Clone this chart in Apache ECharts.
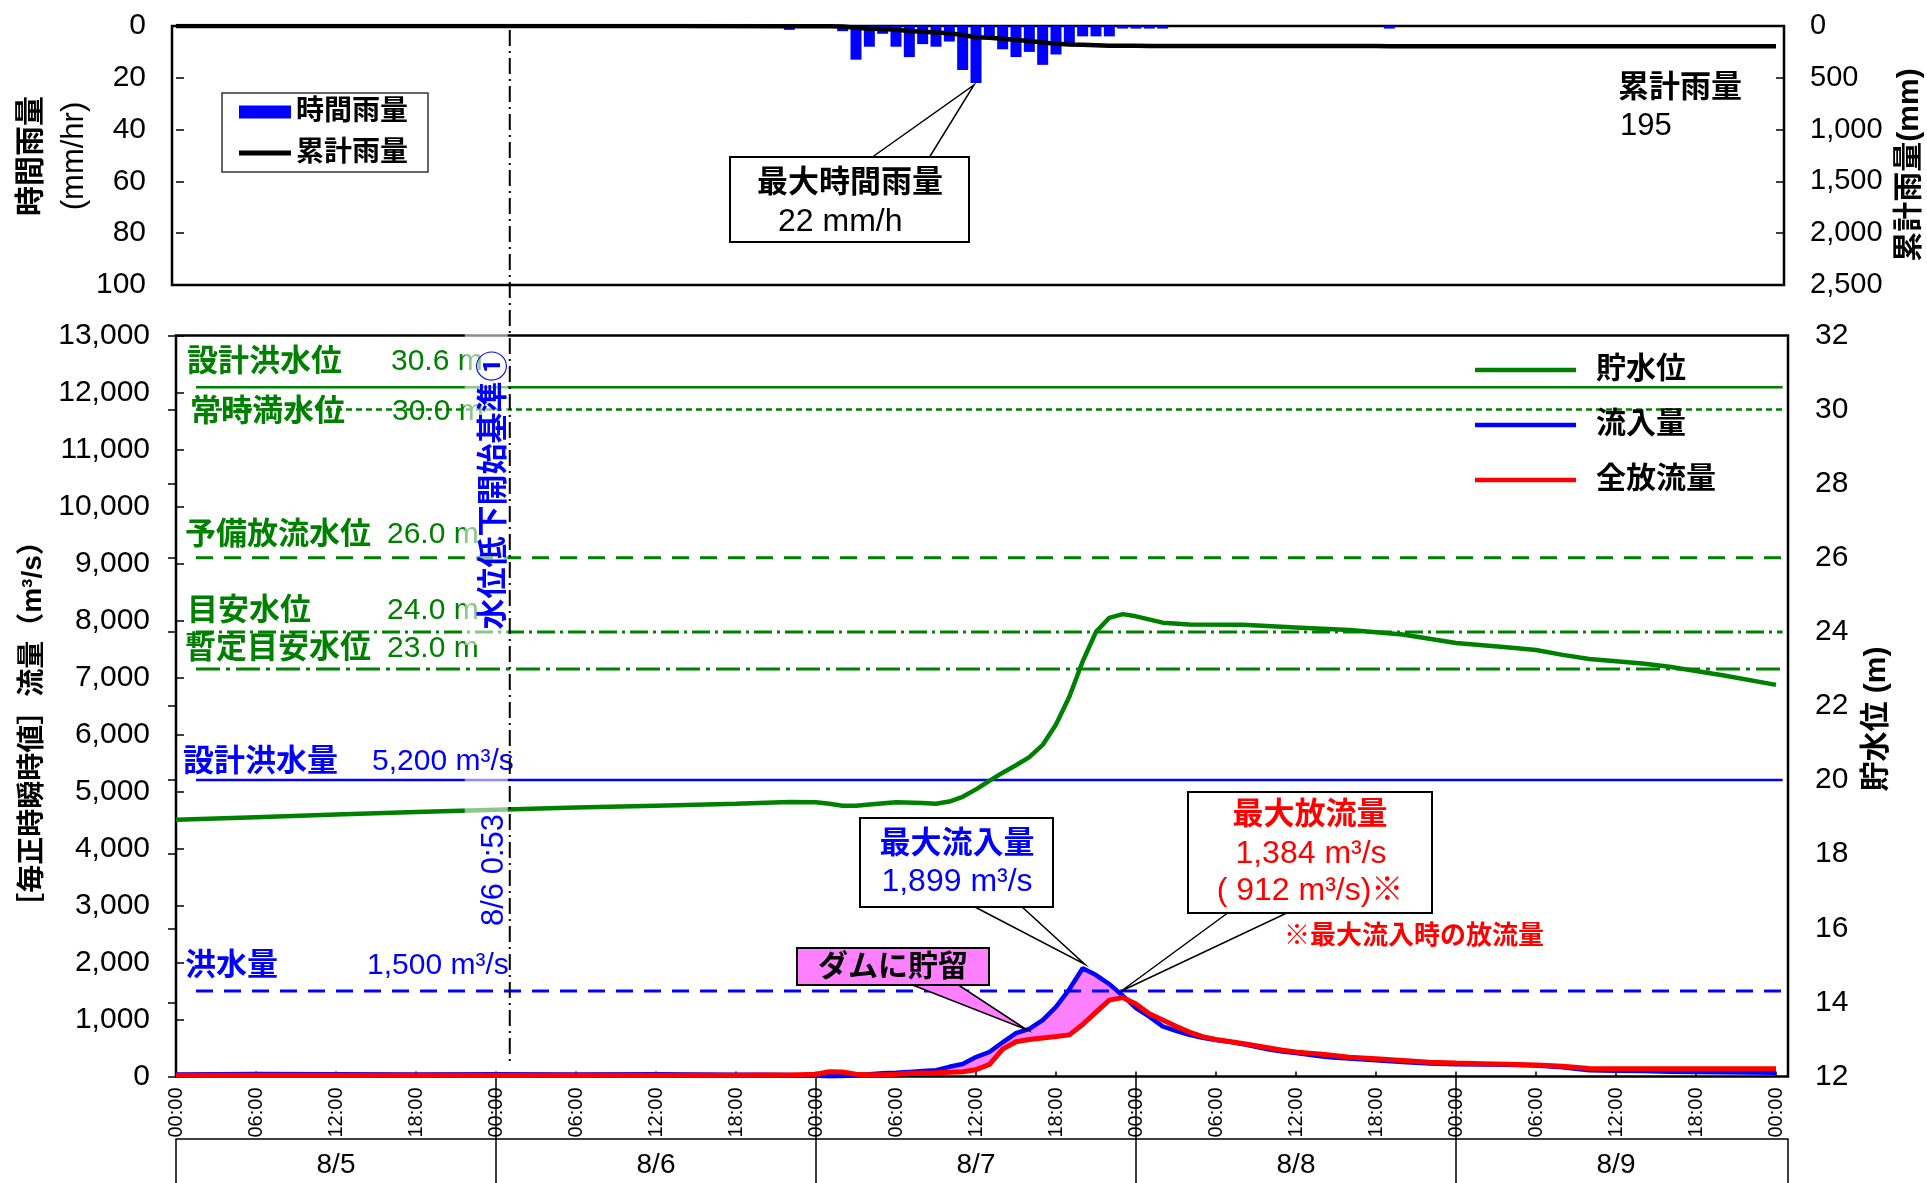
<!DOCTYPE html>
<html><head><meta charset="utf-8">
<script src="https://cdn.jsdelivr.net/npm/echarts@6/dist/echarts.min.js"></script>
<style>html,body{margin:0;padding:0;background:#fff}#c{width:1927px;height:1183px}</style>
</head><body><div id="c"></div>
<script>
// ---------------- data (hours counted from 8/5 00:00) ----------------
const rainHours = [5, 38, 46, 50, 51, 52, 53, 54, 55, 56, 57, 58, 59, 60, 61, 62, 63, 64, 65, 66, 67, 68, 69, 70, 71, 72, 73, 74, 91];
const rainMm    = [0.5, 0.5, 1.5, 2, 13, 8, 3, 8, 12, 7, 8, 6, 17, 22, 5, 9, 12, 10, 15, 11, 7, 4, 4, 4, 1, 1, 1, 1, 1];

const cumHours = [0, 5, 38, 46, 49, 50, 51, 52, 53, 54, 55, 56, 57, 58, 59, 60, 61, 62, 63, 64, 65, 66, 67, 68, 69, 70, 71, 72, 73, 74, 90, 91, 120];
const cumMm    = [0, 0.5, 1, 2.5, 2.5, 4.5, 17.5, 25.5, 28.5, 36.5, 48.5, 55.5, 63.5, 69.5, 86.5, 108.5, 113.5, 122.5, 134.5, 144.5, 159.5, 170.5, 177.5, 181.5, 185.5, 189.5, 190.5, 191.5, 192.5, 193.5, 193.5, 195, 195];

const levelHours = [0, 6, 12, 18, 24, 30, 36, 42, 46, 48, 49, 50, 51, 52, 54, 56, 57, 58, 59, 60, 61, 62, 63, 64, 65, 66, 67, 68, 69, 70, 71, 72, 74, 76, 80, 84, 88, 92, 96, 100, 102, 104, 106, 108, 110, 112, 116, 120];
const levelM     = [18.93, 19.00, 19.07, 19.14, 19.20, 19.26, 19.31, 19.36, 19.41, 19.40, 19.36, 19.31, 19.31, 19.34, 19.40, 19.38, 19.36, 19.42, 19.55, 19.75, 19.98, 20.20, 20.40, 20.62, 20.95, 21.50, 22.25, 23.20, 24.00, 24.38, 24.48, 24.42, 24.25, 24.20, 24.19, 24.12, 24.05, 23.93, 23.70, 23.58, 23.51, 23.38, 23.27, 23.21, 23.15, 23.06, 22.83, 22.57];

const flowHours = [0, 6, 12, 18, 24, 30, 36, 42, 44, 46, 48, 49, 50, 51, 52, 53, 54, 55, 56, 57, 58, 59, 60, 61, 62, 63, 64, 65, 66, 67, 68, 69, 70, 71, 72, 73, 74, 75, 76, 77, 78, 79, 80, 81, 82, 83, 84, 85, 86, 87, 88, 90, 92, 94, 96, 98, 100, 102, 104, 106, 108, 110, 112, 114, 116, 118, 120];
const inflow  = [35, 45, 40, 35, 40, 35, 40, 30, 30, 25, 15, 5, 10, 20, 40, 55, 65, 80, 95, 110, 170, 220, 340, 430, 600, 760, 835, 990, 1220, 1530, 1899, 1780, 1620, 1420, 1200, 1050, 880, 800, 730, 680, 640, 610, 570, 520, 475, 440, 410, 380, 350, 330, 315, 285, 255, 230, 215, 210, 205, 195, 160, 110, 100, 95, 85, 80, 75, 70, 65];
const outflow = [20, 20, 20, 20, 20, 20, 20, 20, 25, 25, 40, 85, 80, 40, 30, 30, 40, 55, 60, 65, 75, 85, 120, 210, 480, 610, 650, 675, 700, 730, 912, 1130, 1340, 1384, 1270, 1100, 990, 880, 780, 700, 650, 615, 580, 540, 500, 460, 430, 410, 390, 365, 340, 310, 280, 250, 235, 225, 215, 200, 180, 140, 135, 135, 135, 135, 135, 135, 135];

const levelRefNames  = ['設計洪水位', '常時満水位', '予備放流水位', '目安水位', '暫定目安水位'];
const levelRefValues = [30.6, 30.0, 26.0, 24.0, 23.0];
const flowRefNames   = ['設計洪水量', '洪水量'];
const flowRefValues  = [5200, 1500];

const timeTickHours = [0, 6, 12, 18, 24, 30, 36, 42, 48, 54, 60, 66, 72, 78, 84, 90, 96, 102, 108, 114, 120];
const dayBoundaryHours = [0, 24, 48, 72, 96];
const dateLabels = ['8/5', '8/6', '8/7', '8/8', '8/9'];
const eventHour = 24 + 53 / 60;   // 8/6 0:53
const eventText = '水位低下開始基準①';
const peakRain = 22, peakRainHour = 60;
const peakInflow = 1899, peakInflowHour = 68;
const peakOutflow = 1384, outflowAtPeakInflow = 912;
const cumTotal = 195;

// ---------------- layout / style ----------------
const F = "'Liberation Sans','Noto Sans CJK JP',sans-serif";
const GREEN = '#008000', BLUE = '#0000ff', RED = '#ff0000', PINK = '#ff80ff';
const X0MIN = -0.3, X0MAX = 120.6, X1MIN = 0, X1MAX = 120.9;
const REF_START = 1.5, REF_END = 120.5;
const fmt = v => Number(v).toLocaleString('en-US');
const pad2 = n => (n < 10 ? '0' : '') + n;

const levelRefStyles = [
  {width: 2.5, type: 'solid'},
  {width: 2.5, type: [6, 4]},
  {width: 3, type: [17, 11]},
  {width: 3, type: [18, 5, 3, 5]},
  {width: 3, type: [24, 6, 4, 6]}
];
const flowRefStyles = [
  {width: 2.5, type: 'solid'},
  {width: 3, type: [17, 11]}
];

const zip = (xs, ys) => xs.map((x, i) => [x, ys[i]]);
const fillIdx = flowHours.map((h, i) => i).filter(i => flowHours[i] >= 50 && flowHours[i] <= 72);

const series = [
  {name: '時間雨量', type: 'bar', xAxisIndex: 0, yAxisIndex: 0, data: zip(rainHours, rainMm),
   barWidth: 11, itemStyle: {color: BLUE}, silent: true},
  {name: '累計雨量', type: 'line', xAxisIndex: 0, yAxisIndex: 1, data: zip(cumHours, cumMm),
   symbol: 'none', lineStyle: {color: '#000', width: 4.5}, itemStyle: {color: '#000'}, silent: true},
  {name: '_fill', type: 'custom', xAxisIndex: 1, yAxisIndex: 2, data: [[60, 0]], silent: true, z: 1, clip: false,
   renderItem: function (params, api) {
     const up = fillIdx.map(i => api.coord([flowHours[i], Math.max(inflow[i], outflow[i])]));
     const lo = fillIdx.slice().reverse().map(i => api.coord([flowHours[i], outflow[i]]));
     return {type: 'polygon', shape: {points: up.concat(lo)}, style: {fill: PINK, stroke: null}};
   }}
];
levelRefValues.forEach((v, i) => series.push({
  name: '_lr' + i, type: 'line', xAxisIndex: 1, yAxisIndex: 3, data: [[REF_START, v], [REF_END, v]],
  symbol: 'none', silent: true, z: 2, lineStyle: {color: GREEN, width: levelRefStyles[i].width, type: levelRefStyles[i].type}
}));
flowRefValues.forEach((v, i) => series.push({
  name: '_fr' + i, type: 'line', xAxisIndex: 1, yAxisIndex: 2, data: [[REF_START, v], [REF_END, v]],
  symbol: 'none', silent: true, z: 2, lineStyle: {color: BLUE, width: flowRefStyles[i].width, type: flowRefStyles[i].type}
}));
series.push(
  {name: '貯水位', type: 'line', xAxisIndex: 1, yAxisIndex: 3, data: zip(levelHours, levelM), symbol: 'none',
   lineStyle: {color: GREEN, width: 4.5}, itemStyle: {color: GREEN}, z: 3, silent: true},
  {name: '流入量', type: 'line', xAxisIndex: 1, yAxisIndex: 2, data: zip(flowHours, inflow), symbol: 'none',
   lineStyle: {color: BLUE, width: 4.5}, itemStyle: {color: BLUE}, z: 4, silent: true},
  {name: '全放流量', type: 'line', xAxisIndex: 1, yAxisIndex: 2, data: zip(flowHours, outflow), symbol: 'none',
   lineStyle: {color: RED, width: 5}, itemStyle: {color: RED}, z: 5, silent: true}
);

const tickStyle = {show: true, inside: true, length: 8, lineStyle: {color: '#000', width: 1.5}};
const lblStyle = (size, margin) => ({color: '#000', fontSize: size, fontFamily: F, margin: margin});
const lineIcon = (w, t) => 'path://M0,0H' + w + 'V' + t + 'H0Z';

const option = {
  animation: false,
  backgroundColor: '#fff',
  grid: [
    {left: 172, top: 26, width: 1612, height: 259, show: true, borderColor: '#000', borderWidth: 2.5, outerBoundsMode: 'none'},
    {left: 176, top: 335.5, width: 1612, height: 741, show: true, borderColor: '#000', borderWidth: 2.5, outerBoundsMode: 'none'}
  ],
  legend: [
    {orient: 'vertical', left: 222, top: 93, padding: [4, 20, 4, 17], itemWidth: 52, itemHeight: 13, itemGap: 11,
     borderColor: '#333', borderWidth: 1.5, selectedMode: false, symbolKeepAspect: true,
     textStyle: {fontSize: 28, fontWeight: 'bold', fontFamily: F, color: '#000', lineHeight: 30},
     data: [{name: '時間雨量', icon: 'rect'}, {name: '累計雨量', icon: lineIcon(52, 5)}]},
    {orient: 'vertical', left: 1475, top: 354, padding: 0, itemWidth: 101, itemHeight: 14, itemGap: 23, selectedMode: false,
     symbolKeepAspect: true,
     textStyle: {fontSize: 30, fontWeight: 'bold', fontFamily: F, color: '#000', lineHeight: 32, padding: [0, 0, 0, 15]},
     data: [{name: '貯水位', icon: lineIcon(101, 4.5)}, {name: '流入量', icon: lineIcon(101, 4.5)}, {name: '全放流量', icon: lineIcon(101, 4.5)}]}
  ],
  xAxis: [
    {type: 'value', gridIndex: 0, min: X0MIN, max: X0MAX, position: 'bottom',
     axisLine: {show: false}, axisTick: {show: false}, axisLabel: {show: false}, splitLine: {show: false}},
    {type: 'value', gridIndex: 1, min: X1MIN, max: X1MAX, position: 'bottom',
     axisLine: {show: false}, splitLine: {show: false},
     axisTick: {show: true, inside: true, length: 5, customValues: timeTickHours, lineStyle: {color: '#000', width: 1.5}},
     axisLabel: {show: true, customValues: timeTickHours, rotate: 90, margin: 11, padding: [14, 0, 0, 0],
                 color: '#000', fontSize: 20, fontFamily: F,
                 formatter: v => pad2(Math.round(v) % 24) + ':00'}},
    {type: 'value', gridIndex: 1, min: X1MIN, max: X1MAX, position: 'bottom', offset: 62.4,
     axisLine: {show: true, lineStyle: {color: '#000', width: 1.5}}, splitLine: {show: false},
     axisTick: {show: true, inside: false, length: 46, customValues: dayBoundaryHours.concat([X1MAX]), lineStyle: {color: '#000', width: 1.5}},
     axisLabel: {show: true, customValues: dayBoundaryHours.map(h => h + 12), margin: 12, color: '#000', fontSize: 28, fontFamily: F,
                 formatter: v => dateLabels[Math.floor(v / 24)]}},
    {type: 'value', gridIndex: 1, min: X1MIN, max: X1MAX, position: 'bottom',
     axisLine: {show: false}, splitLine: {show: false}, axisLabel: {show: false},
     axisTick: {show: true, inside: false, length: 63, customValues: dayBoundaryHours.slice(1), lineStyle: {color: '#000', width: 1.5}}}
  ],
  yAxis: [
    {type: 'value', gridIndex: 0, min: 0, max: 100, interval: 20, inverse: true, position: 'left',
     axisLine: {show: false}, splitLine: {show: false}, axisTick: tickStyle, axisLabel: lblStyle(30, 26)},
    {type: 'value', gridIndex: 0, min: 0, max: 2500, interval: 500, inverse: true, position: 'right',
     axisLine: {show: false}, splitLine: {show: false}, axisTick: tickStyle,
     axisLabel: Object.assign(lblStyle(29, 26), {formatter: fmt})},
    {type: 'value', gridIndex: 1, min: 0, max: 13000, interval: 1000, position: 'left',
     axisLine: {show: false}, splitLine: {show: false}, axisTick: tickStyle,
     axisLabel: Object.assign(lblStyle(30, 26), {formatter: fmt})},
    {type: 'value', gridIndex: 1, min: 12, max: 32, interval: 2, position: 'right',
     axisLine: {show: false}, splitLine: {show: false}, axisTick: tickStyle, axisLabel: lblStyle(30, 27)}
  ],
  series: series
};

const chart = echarts.init(document.getElementById('c'), null, {renderer: 'canvas', width: 1927, height: 1183});
chart.setOption(option);

// ---------------- annotations ----------------
function T(x, y, s, o) {
  o = o || {};
  const al = o.align || 'left';
  return {type: 'text', x: x, y: y, rotation: o.rot || 0, z: o.z || 20, silent: true,
    style: {text: s, x: 0, y: 0, fill: o.color || '#000', fontSize: o.size || 28, fontWeight: o.bold ? 'bold' : 'normal',
            fontFamily: F, align: al, textAlign: al, verticalAlign: 'middle', textVerticalAlign: 'middle'}};
}
function R(x, y, w, h, fill, stroke, z, lw) {
  return {type: 'rect', z: z, silent: true, shape: {x: x, y: y, width: w, height: h},
    style: {fill: fill, stroke: stroke || null, lineWidth: lw || 2}};
}
function PG(pts, fill, z) {
  return {type: 'polygon', z: z, silent: true, shape: {points: pts}, style: {fill: fill, stroke: '#000', lineWidth: 1.5}};
}
const px = (xi, yi, x, y) => chart.convertToPixel({xAxisIndex: xi, yAxisIndex: yi}, [x, y]);
const ROT = Math.PI / 2;

const g = [];
g.push(T(32, 156, '時間雨量', {rot: ROT, align: 'center', bold: true, size: 30}));
g.push(T(74, 156, '(mm/hr)', {rot: ROT, align: 'center', size: 31}));
g.push(T(1910, 165, '累計雨量(mm)', {rot: ROT, align: 'center', bold: true, size: 30}));
g.push(T(33, 724, '［毎正時瞬時値］流量（m³/s）', {rot: ROT, align: 'center', bold: true, size: 28}));
g.push(T(1877, 719, '貯水位 (m)', {rot: ROT, align: 'center', bold: true, size: 30}));

g.push(T(1618, 88, '累計雨量', {bold: true, size: 31}));
g.push(T(1620, 126, String(cumTotal), {size: 31}));

const levelLabelPos = [[187, 362, 391], [190, 412, 392], [185, 535, 387], [187, 611, 387], [185, 649, 387]];
levelRefNames.forEach((n, i) => {
  const p = levelLabelPos[i];
  g.push(T(p[0], p[1], n, {color: GREEN, bold: true, size: 31, z: 10}));
  g.push(T(p[2], p[1], levelRefValues[i].toFixed(1) + ' m', {color: GREEN, size: 30, z: 10}));
});
const flowLabelPos = [[183, 762, 372], [185, 966, 367]];
flowRefNames.forEach((n, i) => {
  const p = flowLabelPos[i];
  g.push(T(p[0], p[1], n, {color: BLUE, bold: true, size: 31, z: 10}));
  g.push(T(p[2], p[1], fmt(flowRefValues[i]) + ' m³/s', {color: BLUE, size: 30, z: 10}));
});

const ex = chart.convertToPixel({xAxisIndex: 1}, eventHour) + 2;
g.push(R(ex - 45, 322, 43, 323, 'rgba(255,255,255,0.55)', null, 50));
g.push(R(ex - 45, 770, 43, 165, 'rgba(255,255,255,0.55)', null, 50));
g.push({type: 'line', z: 60, silent: true, shape: {x1: ex, y1: 30, x2: ex, y2: 1062},
        style: {stroke: '#000', lineWidth: 2, lineDash: [16, 5, 2, 5]}});
const ed = Math.floor(eventHour / 24), eh = Math.floor(eventHour % 24), em = Math.round((eventHour * 60) % 60);
g.push(T(ex - 15, 490, eventText, {rot: ROT, align: 'center', bold: true, size: 31, color: BLUE, z: 61}));
g.push(T(ex - 15, 870, dateLabels[ed] + ' ' + eh + ':' + pad2(em), {rot: ROT, align: 'center', size: 31, color: BLUE, z: 61}));

const tr = px(0, 0, peakRainHour, peakRain);
g.push(PG([[871, 158], [tr[0] - 2, tr[1] + 2], [929, 158]], '#fff', 90));
g.push(R(730, 157, 239, 85, '#fff', '#000', 91, 2));
g.push(T(850, 183, '最大時間雨量', {align: 'center', bold: true, size: 31, z: 92}));
g.push(T(778, 222, peakRain + ' mm/h', {size: 32, z: 92}));

const ti = px(1, 2, peakInflowHour, peakInflow);
g.push(PG([[973, 906], [ti[0] + 2, ti[1] - 4], [1021, 906]], '#fff', 90));
g.push(R(860, 818, 193, 89, '#fff', '#000', 91, 2));
g.push(T(957, 844, '最大流入量', {align: 'center', bold: true, size: 31, color: BLUE, z: 92}));
g.push(T(957, 882, fmt(peakInflow) + ' m³/s', {align: 'center', size: 32, color: BLUE, z: 92}));

const to = px(1, 2, 70.9, 1500);
g.push(PG([[1229, 912], [to[0], to[1]], [1289, 912]], '#fff', 90));
g.push(R(1188, 792, 244, 121, '#fff', '#000', 91, 2));
g.push(T(1310, 815, '最大放流量', {align: 'center', bold: true, size: 31, color: RED, z: 92}));
g.push(T(1311, 854, fmt(peakOutflow) + ' m³/s', {align: 'center', size: 32, color: RED, z: 92}));
g.push(T(1310, 891, '( ' + outflowAtPeakInflow + ' m³/s)※', {align: 'center', size: 32, color: RED, z: 92}));
g.push(T(1284, 937, '※最大流入時の放流量', {bold: true, size: 26, color: RED, z: 92}));

const ts = px(1, 2, 63.8, 820);
g.push(PG([[910, 984], [ts[0], ts[1]], [957, 984]], PINK, 90));
g.push(R(797, 948, 192, 37, PINK, '#000', 91, 2));
g.push(T(893, 968, 'ダムに貯留', {align: 'center', bold: true, size: 30, z: 92}));

chart.setOption({graphic: {elements: g}});
</script>
</body></html>
